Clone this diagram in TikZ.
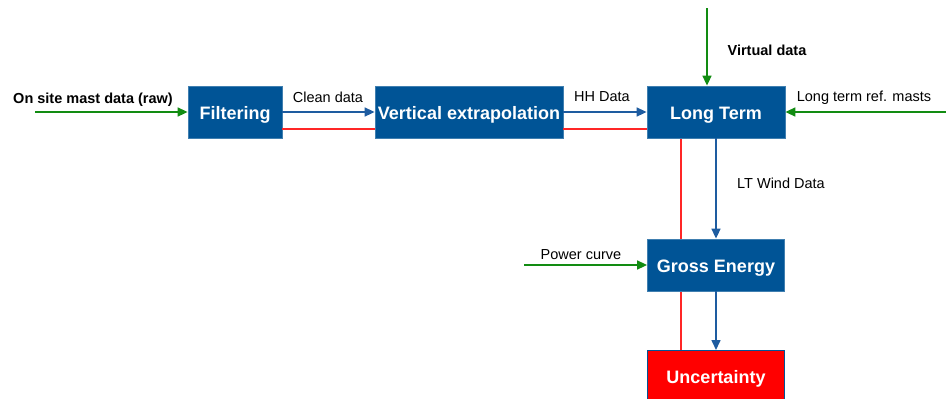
\documentclass[tikz,border=0pt]{standalone}
\usepackage{fontspec}
\setmainfont{Liberation Sans}
\usetikzlibrary{calc}
\usetikzlibrary{backgrounds}
\usetikzlibrary{arrows.meta}

\definecolor{boxblue}{RGB}{0,84,150}
\definecolor{flowblue}{RGB}{30,92,160}
\definecolor{feedgreen}{RGB}{18,140,18}

\tikzset{
  stage/.style={draw=boxblue!75!white, line width=0.8pt, fill=boxblue, text=white,
    font=\fontsize{18}{21}\selectfont\bfseries, minimum height=52pt, inner sep=0pt,
    text height=14pt, text depth=0pt},
  flow/.style={draw=flowblue, line width=1.6pt},
  feed/.style={draw=feedgreen, line width=1.6pt},
  riskline/.style={draw=red!85!white, line width=2pt},
  lbl/.style={font=\fontsize{14.5}{17}\selectfont, inner sep=0pt},
  boldlbl/.style={font=\fontsize{14.5}{17}\selectfont\bfseries, inner sep=0pt}
}

\begin{document}
\begin{tikzpicture}[x=1pt,y=-1pt,>={Triangle[length=10pt,width=9pt]}]
    \useasboundingbox (0,0) rectangle (946,399);
    % boxes
    \node[stage, minimum width=94pt]  (filter)   at (235,112) {Filtering};
    \node[stage, minimum width=188pt] (vext)     at (469,112) {Vertical extrapolation};
    \node[stage, minimum width=138pt] (longterm) at (716,112) {Long Term};
    \node[stage, minimum width=137pt] (gross)    at (716,265) {Gross Energy};
    \node[stage, fill=red, draw=boxblue, minimum width=137pt, anchor=north] (unc) at (716,350) {Uncertainty};
    % free ends of the inputs
    \coordinate (mastin)  at (35,112);
    \coordinate (virtin)  at (707,8);
    \coordinate (refin)   at (946,112);
    \coordinate (powerin) at (524,265);
    % uncertainty path
    \coordinate (ltrisk) at ($(longterm.south west)!0.25!(longterm.south east)$);
    \coordinate (frisk) at ($(filter.south east)+(0,-9)$);
    \coordinate (vrisk) at ($(vext.south east)+(0,-9)$);
    \draw[riskline] (frisk) -- (frisk -| vext.west);
    \draw[riskline] (vrisk) -- (vrisk -| longterm.west);
    \begin{scope}[on background layer]
      \draw[riskline] (ltrisk) -- (ltrisk |- unc.north);
    \end{scope}
    % inputs
    \draw[feed,->] (mastin) -- (filter);
    \draw[feed,->] (virtin) -- (virtin |- longterm.north);
    \draw[feed,->] (refin) -- (longterm);
    \draw[feed,->] (powerin) -- (gross);
    % data flow
    \draw[flow,->] (filter) -- (vext);
    \draw[flow,->] (vext) -- (longterm);
    \draw[flow,->] (longterm) -- (gross);
    \draw[flow,->] (gross) -- (unc);
    % labels
    \node[boldlbl] (mastlbl)  at (93,100)  {On site mast data (raw)};
    \node[lbl]     (cleanlbl) at (328,97)  {Clean data};
    \node[lbl]     (hhlbl)    at (602,97)  {HH Data};
    \node[boldlbl] (virtlbl)  at (767,50)  {Virtual data};
    \node[lbl]     (reflbl)   at (864,98)  {Long term ref. masts};
    \node[lbl]     (ltwlbl)   at (781,183) {LT Wind Data};
    \node[lbl]     (powerlbl) at (581,255) {Power curve};
\end{tikzpicture}
\end{document}
